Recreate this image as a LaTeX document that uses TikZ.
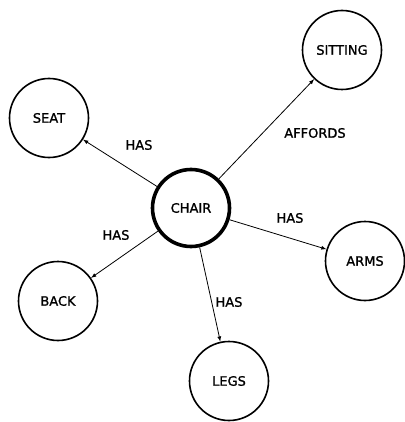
\documentclass[tikz,border=0pt]{standalone}
\usepackage{fontspec}
\setmainfont{DejaVu Sans}
\newfontfamily\labelfont{DejaVu Sans}[FakeBold=1.2]
\usetikzlibrary{arrows.meta}

\begin{document}
\begin{tikzpicture}[x=1pt,y=-1pt,
    concept/.style={circle,draw,line width=1.6pt,minimum size=79pt,inner sep=0pt,font=\labelfont\fontsize{13}{15}\selectfont},
    hub/.style={concept,line width=3.6pt,minimum size=77pt},
    rel/.style={font=\labelfont\fontsize{13}{15}\selectfont},
    link/.style={-latex,line width=0.8pt}]
    \useasboundingbox (0,0) rectangle (404,422);
    % concepts
    \node[hub] (chair) at (191,208) {CHAIR};
    \node[concept] (seat) at (49,118) {SEAT};
    \node[concept] (sitting) at (342,50) {SITTING};
    \node[concept] (arms) at (365,261) {ARMS};
    \node[concept] (back) at (58,301) {BACK};
    \node[concept] (legs) at (229,381) {LEGS};
    % relations
    \draw[link](chair)--(seat);
    \draw[link](chair)--(sitting);
    \draw[link](chair)--(arms);
    \draw[link](chair)--(back);
    \draw[link](chair)--(legs);
    \node[rel] (hasseat) at (139,145) {HAS};
    \node[rel] (affords) at (315,133) {AFFORDS};
    \node[rel] (hasarms) at (290,218) {HAS};
    \node[rel] (hasback) at (116,235) {HAS};
    \node[rel] (haslegs) at (229,302) {HAS};
\end{tikzpicture}
\end{document}
